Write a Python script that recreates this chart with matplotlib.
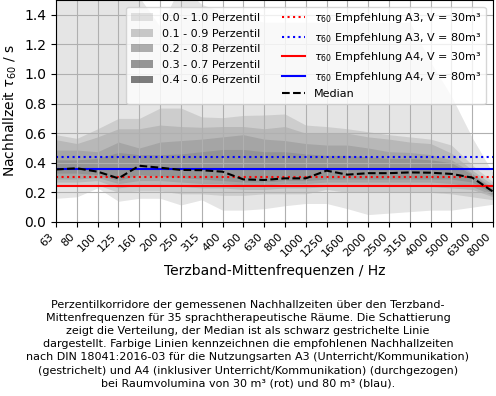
import matplotlib
matplotlib.use('Agg')
import matplotlib.pyplot as plt
import numpy as np
from matplotlib.patches import Patch

# Terzband-Mittenfrequenzen
frequenzen = ['63', '80', '100', '125', '160', '200', '250', '315', '400', '500', '630',
              '800', '1000', '1250', '1600', '2000', '2500', '3150', '4000', '5000', '6300', '8000']

# Perzentile der Nachhallzeit (s)
p00 = [0.16, 0.17, 0.23, 0.14, 0.16, 0.16, 0.115, 0.15, 0.08, 0.08, 0.09, 0.11, 0.125, 0.125, 0.09, 0.05, 0.06, 0.07, 0.08, 0.08, 0.10, 0.12]
p10 = [0.24, 0.24, 0.25, 0.20, 0.21, 0.21, 0.19, 0.19, 0.18, 0.18, 0.19, 0.19, 0.19, 0.22, 0.20, 0.20, 0.20, 0.20, 0.20, 0.19, 0.17, 0.15]
p20 = [0.27, 0.27, 0.28, 0.23, 0.25, 0.25, 0.24, 0.23, 0.23, 0.22, 0.22, 0.23, 0.23, 0.24, 0.24, 0.24, 0.24, 0.24, 0.24, 0.23, 0.22, 0.17]
p30 = [0.29, 0.29, 0.30, 0.26, 0.28, 0.28, 0.27, 0.26, 0.26, 0.25, 0.25, 0.26, 0.26, 0.27, 0.27, 0.27, 0.27, 0.27, 0.27, 0.26, 0.24, 0.18]
p40 = [0.33, 0.33, 0.32, 0.28, 0.32, 0.31, 0.30, 0.29, 0.28, 0.27, 0.27, 0.28, 0.28, 0.29, 0.29, 0.29, 0.29, 0.29, 0.29, 0.29, 0.27, 0.19]
median = [0.355, 0.363, 0.34, 0.295, 0.38, 0.367, 0.352, 0.35, 0.34, 0.288, 0.284, 0.295, 0.295, 0.347, 0.32, 0.33, 0.33, 0.335, 0.333, 0.325, 0.30, 0.205]
p60 = [0.42, 0.42, 0.43, 0.47, 0.455, 0.455, 0.46, 0.475, 0.49, 0.49, 0.475, 0.475, 0.46, 0.45, 0.45, 0.44, 0.43, 0.43, 0.42, 0.40, 0.32, 0.22]
p70 = [0.486, 0.486, 0.475, 0.54, 0.50, 0.54, 0.55, 0.56, 0.575, 0.59, 0.56, 0.55, 0.53, 0.52, 0.52, 0.50, 0.475, 0.47, 0.455, 0.42, 0.33, 0.23]
p80 = [0.556, 0.53, 0.575, 0.63, 0.63, 0.655, 0.645, 0.64, 0.645, 0.645, 0.63, 0.645, 0.60, 0.60, 0.60, 0.575, 0.56, 0.54, 0.53, 0.465, 0.35, 0.25]
p90 = [0.59, 0.565, 0.63, 0.70, 0.70, 0.77, 0.77, 0.71, 0.705, 0.72, 0.723, 0.73, 0.655, 0.645, 0.63, 0.61, 0.59, 0.575, 0.56, 0.52, 0.385, 0.27]
p100 = [1.6, 1.6, 1.6, 1.6, 1.52, 1.32, 1.6, 1.47, 1.42, 1.38, 1.35, 1.35, 1.35, 1.35, 1.35, 1.35, 1.35, 1.35, 1.08, 0.85, 0.57, 0.33]

# Empfehlungen DIN 18041
t60_a3_30 = 0.303
t60_a3_80 = 0.439
t60_a4_30 = 0.244
t60_a4_80 = 0.355

unten = [p00, p10, p20, p30, p40]
oben = [p100, p90, p80, p70, p60]
band_labels = ['0.0 - 1.0 Perzentil', '0.1 - 0.9 Perzentil', '0.2 - 0.8 Perzentil',
               '0.3 - 0.7 Perzentil', '0.4 - 0.6 Perzentil']

caption = ("Perzentilkorridore der gemessenen Nachhallzeiten über den Terzband-\n"
           "Mittenfrequenzen für 35 sprachtherapeutische Räume. Die Schattierung\n"
           "zeigt die Verteilung, der Median ist als schwarz gestrichelte Linie\n"
           "dargestellt. Farbige Linien kennzeichnen die empfohlenen Nachhallzeiten\n"
           "nach DIN 18041:2016-03 für die Nutzungsarten A3 (Unterricht/Kommunikation)\n"
           "(gestrichelt) und A4 (inklusiver Unterricht/Kommunikation) (durchgezogen)\n"
           "bei Raumvolumina von 30 m³ (rot) und 80 m³ (blau).")

x = np.arange(len(frequenzen))

fig = plt.figure(figsize=(4.96, 3.96), dpi=100)
ax = fig.add_axes([0.113, 0.4394, 0.881, 0.5606])

# Perzentil-Baender (uebereinander, jeweils alpha 0.1)
patches = []
for i in range(5):
    ax.fill_between(x, unten[i], oben[i], color='k', alpha=0.1, linewidth=0)
    patches.append(Patch(facecolor='k', alpha=0.1 * (i + 1), label=band_labels[i]))

l1, = ax.plot(x, [t60_a3_30] * len(x), color='red', linestyle=':', linewidth=1.5,
              label=r'$\tau_{60}$ Empfehlung A3, V = 30m³')
l2, = ax.plot(x, [t60_a3_80] * len(x), color='blue', linestyle=':', linewidth=1.5,
              label=r'$\tau_{60}$ Empfehlung A3, V = 80m³')
l3, = ax.plot(x, [t60_a4_30] * len(x), color='red', linestyle='-', linewidth=1.5,
              label=r'$\tau_{60}$ Empfehlung A4, V = 30m³')
l4, = ax.plot(x, [t60_a4_80] * len(x), color='blue', linestyle='-', linewidth=1.5,
              label=r'$\tau_{60}$ Empfehlung A4, V = 80m³')
l5, = ax.plot(x, median, color='k', linestyle='--', linewidth=1.5, label='Median')

ax.set_xlim(0, len(x) - 1)
ax.set_ylim(0, 1.5)
ax.set_yticks(np.arange(0, 1.41, 0.2))
ax.set_xticks(x)
ax.set_xticklabels(frequenzen, rotation=45, ha='right', fontsize=8)
ax.tick_params(axis='y', labelsize=10)
ax.set_xlabel('Terzband-Mittenfrequenzen / Hz', fontsize=10)
ax.set_ylabel(r'Nachhallzeit $\tau_{60}$ / s', fontsize=10)
ax.grid(True)

ax.legend(handles=patches + [l1, l2, l3, l4, l5], ncol=2, loc='upper right',
          fontsize=8, bbox_to_anchor=(0.996, 0.995))

fig.text(0.5, 0.131, caption, ha='center', va='center', fontsize=8, linespacing=1.4)

fig.savefig('out.png', dpi=100)
